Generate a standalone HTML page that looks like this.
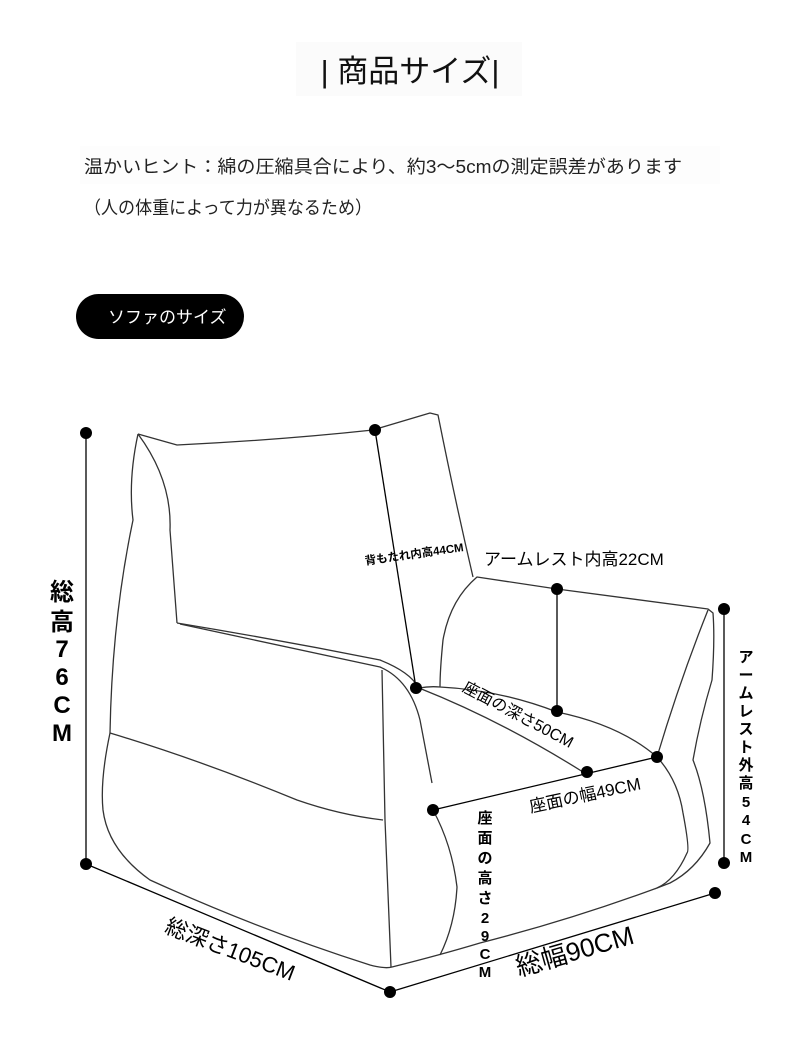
<!DOCTYPE html>
<html><head><meta charset="utf-8"><style>
body{margin:0;background:#fff;}
svg{display:block;font-family:"Liberation Sans","Noto Sans CJK JP",sans-serif;}
</style></head><body>
<svg width="790" height="1048" viewBox="0 0 790 1048" xmlns="http://www.w3.org/2000/svg">
<rect x="296" y="42" width="226" height="54" fill="#fbfbfb"/>
<text x="410" y="82" font-size="31" text-anchor="middle" fill="#111">| 商品サイズ|</text>
<rect x="80" y="146" width="640" height="38" fill="#fdfdfd"/>
<text x="84" y="173" font-size="18" fill="#222" textLength="598" lengthAdjust="spacingAndGlyphs">温かいヒント：綿の圧縮具合により、約3〜5cmの測定誤差があります</text>
<text x="84" y="214" font-size="18" fill="#222" textLength="288" lengthAdjust="spacingAndGlyphs">（人の体重によって力が異なるため）</text>
<rect x="76" y="294" width="168" height="45" rx="22.5" fill="#000"/>
<text x="108" y="323" font-size="17" fill="#fff">ソファのサイズ</text>

<g fill="none" stroke="#333" stroke-width="1.3" stroke-linejoin="round">
<path d="M138,434 L177,445 Q280,440 373,430 L430,413 L438,415 Q455,500 473,577"/>
<path d="M138,434 Q172,480 170,530 L177,623"/>
<path d="M177,623 Q280,640 380,660 Q410,672 418,687"/>
<path d="M180,624 Q290,648 380,667 Q410,680 420,720 L432,783"/>
<path d="M138,434 Q128,480 133,520 Q112,620 110,733"/>
<path d="M110,733 Q200,760 297,800 Q340,815 383,820"/>
<path d="M382,670 L385,820 L391,967"/>
<path d="M110,733 Q100,780 103,810 Q108,850 150,880 Q260,930 370,965 Q385,969 392,967 Q440,955 480,943 Q570,920 657,888 L670,883 Q695,870 710,843 Q705,790 693,760 Q700,720 712,680 Q715,640 713,613 L708,609 Q640,600 557,589 L477,577 Q450,600 443,640 Q440,670 440,687"/>
<path d="M708,610 Q680,680 657,757"/>
<path d="M657,757 Q678,780 683,813 Q690,850 687,853 Q675,880 657,888"/>
<path d="M419,688 Q430,686 440,687 Q500,690 557,712 Q620,725 657,757"/>
<path d="M419,688 Q500,720 583,772"/>
<path d="M433,810 Q452,845 457,887 Q455,925 440,955"/>
</g>
<g stroke="#000" stroke-width="1.3">
<line x1="86" y1="433" x2="86" y2="864"/>
<line x1="375" y1="430" x2="416" y2="688"/>
<line x1="557" y1="589" x2="557" y2="712"/>
<line x1="724" y1="609" x2="724" y2="863"/>
<line x1="433" y1="810" x2="657" y2="757"/>
<line x1="86" y1="864" x2="390" y2="992"/>
<line x1="390" y1="992" x2="715" y2="893"/>
</g>
<g fill="#000">
<circle cx="86" cy="433" r="6"/><circle cx="86" cy="864" r="6"/>
<circle cx="375" cy="430" r="6"/><circle cx="416" cy="688" r="6"/>
<circle cx="557" cy="589" r="6"/><circle cx="557" cy="711" r="6"/>
<circle cx="724" cy="609" r="6"/><circle cx="724" cy="863" r="6"/>
<circle cx="433" cy="810" r="6"/><circle cx="587" cy="772" r="6"/><circle cx="657" cy="757" r="6"/>
<circle cx="390" cy="992" r="6"/><circle cx="715" cy="893" r="6"/>
</g>
<g font-weight="bold" font-size="24" text-anchor="middle" fill="#000">
<text x="62" y="600">総</text><text x="62" y="630">高</text><text x="62" y="657">7</text><text x="62" y="685">6</text><text x="62" y="713">C</text><text x="62" y="741">M</text>
</g>
<g font-weight="bold" font-size="15" text-anchor="middle" fill="#000">
<text x="746" y="662">ア</text><text x="746" y="680">ー</text><text x="746" y="698">ム</text><text x="746" y="716">レ</text><text x="746" y="734">ス</text><text x="746" y="752">ト</text><text x="746" y="770">外</text><text x="746" y="788">高</text><text x="746" y="807">5</text><text x="746" y="825">4</text><text x="746" y="844">C</text><text x="746" y="862">M</text>
<text x="485" y="823">座</text><text x="485" y="843">面</text><text x="485" y="863">の</text><text x="485" y="883">高</text><text x="485" y="903">さ</text><text x="485" y="923">2</text><text x="485" y="941">9</text><text x="485" y="959">C</text><text x="485" y="977">M</text>
</g>
<text x="414" y="558" font-size="11.5" font-weight="bold" text-anchor="middle" transform="rotate(-8 414 553)">背もたれ内高44CM</text>
<text x="484" y="565" font-size="17">アームレスト内高22CM</text>
<text x="518" y="720" font-size="16" text-anchor="middle" transform="rotate(28 518 715)">座面の深さ50CM</text>
<text x="585" y="801" font-size="17" text-anchor="middle" transform="rotate(-12 585 795)">座面の幅49CM</text>
<text x="230" y="957" font-size="22" text-anchor="middle" transform="rotate(21 230 950)">総深さ105CM</text>
<text x="575" y="960" font-size="26" text-anchor="middle" transform="rotate(-16 575 952)">総幅90CM</text>
</svg>
</body></html>
